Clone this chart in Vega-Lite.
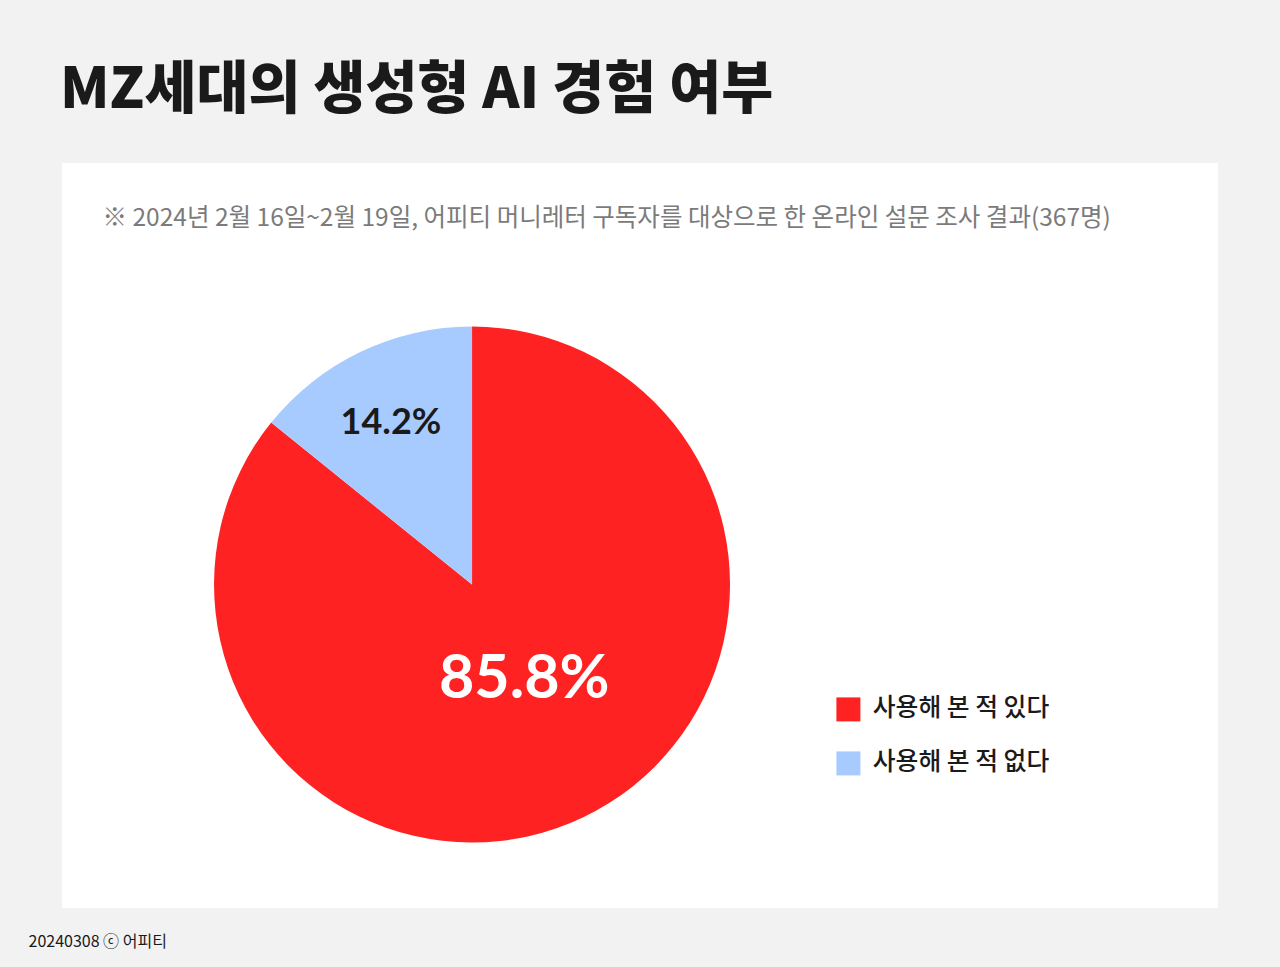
{
  "$schema": "https://vega.github.io/schema/vega-lite/v6.json",
  "autosize": {"type": "none"},
  "width": 1156,
  "height": 745,
  "padding": {"left": 62, "top": 163, "right": 62, "bottom": 59},
  "background": "#f2f2f2",
  "title": {
    "text": "MZ세대의 생성형 AI 경험 여부",
    "anchor": "start",
    "frame": "group",
    "dx": -2,
    "offset": 44,
    "font": "Noto Sans CJK KR",
    "fontSize": 56.5,
    "fontWeight": 900,
    "color": "#1a1a1a"
  },
  "data": {
    "values": [
      {"answer": "사용해 본 적 있다", "share": 0.858},
      {"answer": "사용해 본 적 없다", "share": 0.142}
    ]
  },
  "layer": [
    {
      "mark": {"type": "arc", "outerRadius": 258, "stroke": null},
      "encoding": {
        "theta": {"field": "share", "type": "quantitative", "stack": true},
        "order": {"field": "answer", "sort": "descending"},
        "color": {
          "field": "answer",
          "type": "nominal",
          "scale": {"domain": ["사용해 본 적 있다", "사용해 본 적 없다"], "range": ["#ff2222", "#a8cbff"]},
          "legend": {
            "title": null,
            "orient": "none",
            "legendX": 774,
            "legendY": 534,
            "padding": 0,
            "symbolType": "square",
            "symbolSize": 576,
            "symbolStrokeWidth": 0,
            "labelFont": "Noto Sans CJK KR",
            "labelFontSize": 24.8,
            "labelFontWeight": 500,
            "labelColor": "#1a1a1a",
            "labelOffset": 12,
            "labelLimit": 0,
            "rowPadding": 28
          }
        },
        "x": {
          "datum": 0.3547,
          "type": "quantitative",
          "scale": {"domain": [0, 1]},
          "axis": {
            "orient": "top",
            "title": "※ 2024년 2월 16일~2월 19일, 어피티 머니레터 구독자를 대상으로 한 온라인 설문 조사 결과(367명)",
            "titleX": 40,
            "titleY": 62,
            "titleAlign": "left",
            "titleBaseline": "alphabetic",
            "titleFont": "Noto Sans CJK KR",
            "titleFontSize": 24.5,
            "titleFontWeight": 400,
            "titleColor": "#7b7b7b",
            "titleLimit": 0,
            "labels": false,
            "ticks": false,
            "domain": false,
            "grid": false
          }
        },
        "y": {
          "datum": 0.5658,
          "type": "quantitative",
          "scale": {"domain": [0, 1], "reverse": true},
          "axis": {
            "orient": "left",
            "title": "20240308 ⓒ 어피티",
            "titleAngle": 0,
            "titleX": -34,
            "titleY": 783,
            "titleAlign": "left",
            "titleBaseline": "alphabetic",
            "titleFont": "Noto Sans CJK KR",
            "titleFontSize": 16,
            "titleFontWeight": 400,
            "titleColor": "#1a1a1a",
            "titleLimit": 0,
            "labels": false,
            "ticks": false,
            "domain": false,
            "grid": false
          }
        }
      }
    },
    {
      "mark": {"type": "text", "radius": 107, "dx": 6, "dy": -1, "font": "Lato", "fontSize": 61, "fontWeight": "bold", "color": "#ffffff"},
      "encoding": {
        "theta": {"field": "share", "type": "quantitative", "stack": true},
        "order": {"field": "answer", "sort": "descending"},
        "x": {"datum": 0.3547, "type": "quantitative"},
        "y": {"datum": 0.5658, "type": "quantitative"},
        "text": {
          "condition": {"test": "datum.answer === '사용해 본 적 없다'", "value": ""},
          "field": "share",
          "type": "quantitative",
          "format": ".1%"
        }
      }
    },
    {
      "mark": {"type": "text", "radius": 181, "dx": -3, "dy": 2, "font": "Lato", "fontSize": 36, "fontWeight": "bold", "color": "#1a1a1a"},
      "encoding": {
        "theta": {"field": "share", "type": "quantitative", "stack": true},
        "order": {"field": "answer", "sort": "descending"},
        "x": {"datum": 0.3547, "type": "quantitative"},
        "y": {"datum": 0.5658, "type": "quantitative"},
        "text": {
          "condition": {"test": "datum.answer === '사용해 본 적 있다'", "value": ""},
          "field": "share",
          "type": "quantitative",
          "format": ".1%"
        }
      }
    }
  ],
  "config": {
    "view": {"stroke": null, "fill": "#ffffff"}
  }
}
